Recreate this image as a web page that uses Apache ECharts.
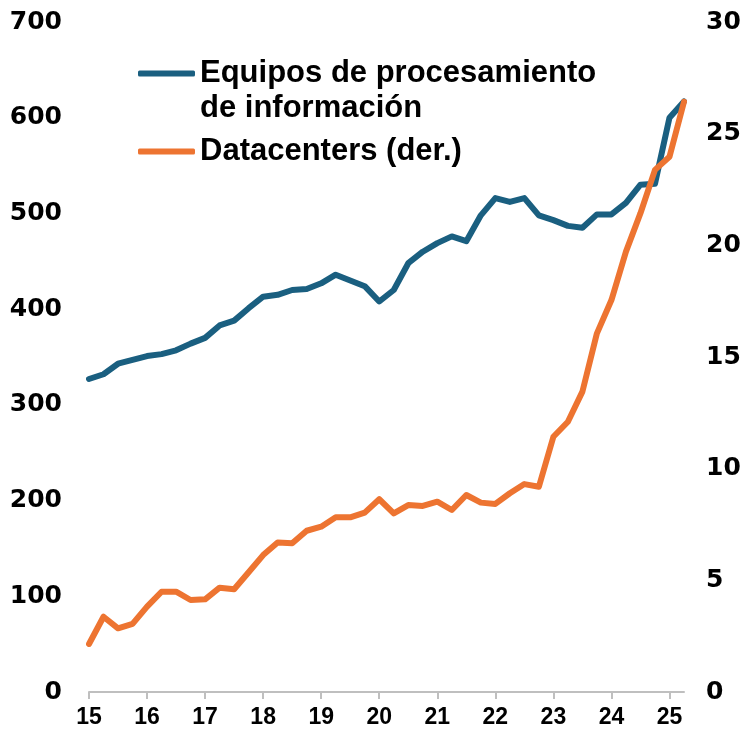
<!DOCTYPE html>
<html>
<head>
<meta charset="utf-8">
<script src="https://cdn.jsdelivr.net/npm/echarts@6/dist/echarts.min.js"></script>
<style>
html, body { margin: 0; padding: 0; background: #fff; }
#chart { width: 753px; height: 745px; }
</style>
</head>
<body>
<div id="chart"></div>
<script>
// trimestres 2015T1 - 2025T2
var quarters = [
    '2015T1','2015T2','2015T3','2015T4','2016T1','2016T2','2016T3','2016T4',
    '2017T1','2017T2','2017T3','2017T4','2018T1','2018T2','2018T3','2018T4',
    '2019T1','2019T2','2019T3','2019T4','2020T1','2020T2','2020T3','2020T4',
    '2021T1','2021T2','2021T3','2021T4','2022T1','2022T2','2022T3','2022T4',
    '2023T1','2023T2','2023T3','2023T4','2024T1','2024T2','2024T3','2024T4',
    '2025T1','2025T2'
];
// eje izquierdo
var equipos = [
    327, 332, 343, 347, 351, 353, 357, 364, 370, 383, 388, 401, 413, 415, 420, 421,
    427, 436, 430, 424, 408, 420, 448, 460, 469, 476, 471, 498, 516, 512, 516, 498,
    493, 487, 485, 499, 499, 511, 530, 531, 600, 617
];
// eje derecho
var datacenters = [
    2.15, 3.37, 2.85, 3.05, 3.82, 4.49, 4.49, 4.12, 4.15, 4.67, 4.6, 5.36, 6.13, 6.69,
    6.66, 7.22, 7.4, 7.82, 7.82, 8.03, 8.63, 8.0, 8.37, 8.33, 8.52, 8.15, 8.82, 8.48,
    8.42, 8.9, 9.31, 9.19, 11.43, 12.1, 13.45, 16.06, 17.55, 19.72, 21.44, 23.38,
    23.97, 26.43
];
var nombres = ['Equipos de procesamiento\nde información', 'Datacenters (der.)'];

var azul = '#1a5f80';
var naranja = '#ed7431';

var chartDom = document.getElementById('chart');
var myChart = echarts.init(chartDom);

function esInicioAnio(index) {
    return index % 4 === 0;
}

var etiquetaY = {
    fontFamily: 'DejaVu Sans',
    fontWeight: 'bold',
    fontSize: 25,
    color: '#000'
};

var option = {
    animation: false,
    grid: {
        left: 89,
        right: 69,
        top: 22,
        bottom: 53
    },
    legend: {
        orient: 'vertical',
        left: 138,
        top: 21,
        padding: 0,
        itemGap: 8,
        itemWidth: 57,
        itemHeight: 6,
        icon: 'roundRect',
        data: nombres,
        formatter: function (name) {
            // la linea queda a la altura del primer renglon
            return name.indexOf('\n') >= 0 ? '\n' + name : name;
        },
        textStyle: {
            fontFamily: 'Liberation Sans',
            fontWeight: 'bold',
            fontSize: 31,
            lineHeight: 35,
            color: '#000'
        }
    },
    xAxis: {
        type: 'category',
        data: quarters,
        boundaryGap: false,
        axisLine: {
            lineStyle: { color: '#bfbfbf', width: 2 }
        },
        axisTick: {
            interval: esInicioAnio,
            length: 7,
            lineStyle: { color: '#bfbfbf', width: 2 }
        },
        axisLabel: {
            interval: esInicioAnio,
            margin: 14,
            fontFamily: 'Liberation Sans',
            fontWeight: 'bold',
            fontSize: 23,
            color: '#000',
            formatter: function (v) {
                return v.slice(2, 4);
            }
        }
    },
    yAxis: [{
        type: 'value',
        min: 0,
        max: 700,
        interval: 100,
        axisLine: { show: false },
        axisTick: { show: false },
        splitLine: { show: false },
        axisLabel: Object.assign({ margin: 27 }, etiquetaY)
    }, {
        type: 'value',
        min: 0,
        max: 30,
        interval: 5,
        axisLine: { show: false },
        axisTick: { show: false },
        splitLine: { show: false },
        axisLabel: Object.assign({ margin: 22 }, etiquetaY)
    }],
    series: [{
        name: nombres[0],
        type: 'line',
        yAxisIndex: 0,
        data: equipos,
        symbol: 'none',
        color: azul,
        lineStyle: { width: 6, color: azul, join: 'round', cap: 'round' }
    }, {
        name: nombres[1],
        type: 'line',
        yAxisIndex: 1,
        data: datacenters,
        symbol: 'none',
        color: naranja,
        lineStyle: { width: 6, color: naranja, join: 'round', cap: 'round' }
    }]
};

option && myChart.setOption(option);
</script>
</body>
</html>
